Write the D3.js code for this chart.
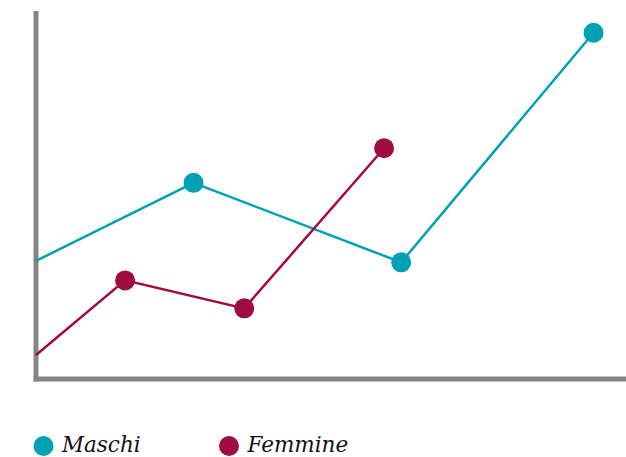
<!DOCTYPE html>
<html>
<head>
<meta charset="utf-8">
<script src="https://cdn.jsdelivr.net/npm/d3@7"></script>
<style>
  html, body { margin: 0; padding: 0; background: #fff; }
  svg { display: block; }
</style>
</head>
<body>
<svg id="chart" width="626" height="457"></svg>
<script>
// Data (x in arbitrary units, y in arbitrary units)
const seriesNames = ["Maschi", "Femmine"];
const maschiX = [0, 2.67, 6.19, 9.45];
const maschiY = [32.1, 53.3, 31.7, 94.1];
const femmineX = [0, 1.51, 3.53, 5.90];
const femmineY = [6.5, 26.8, 19.2, 62.7];
// first point of each series sits on the axis and has no marker
const maschiMarker = [false, true, true, true];
const femmineMarker = [false, true, true, true];

const colors = { Maschi: "#00a1b4", Femmine: "#a00c3f" };

const svg = d3.select("#chart");
const x = d3.scaleLinear().domain([0, 10]).range([36, 626]);
const y = d3.scaleLinear().domain([0, 100]).range([379, 11]);

const series = [
  { name: "Maschi", pts: maschiX.map((v, i) => ({ x: v, y: maschiY[i], m: maschiMarker[i] })) },
  { name: "Femmine", pts: femmineX.map((v, i) => ({ x: v, y: femmineY[i], m: femmineMarker[i] })) }
];

const line = d3.line().x(d => x(d.x)).y(d => y(d.y));

// Axes
const axisColor = "#858585";
svg.append("line")
  .attr("x1", x(0)).attr("x2", x(0))
  .attr("y1", y(100)).attr("y2", y(0) + 2.5)
  .attr("stroke", axisColor).attr("stroke-width", 5);
svg.append("line")
  .attr("x1", x(0) - 2.5).attr("x2", x(10))
  .attr("y1", y(0)).attr("y2", y(0))
  .attr("stroke", axisColor).attr("stroke-width", 5);

// Lines & markers
series.forEach(s => {
  svg.append("path")
    .attr("d", line(s.pts))
    .attr("fill", "none")
    .attr("stroke", colors[s.name])
    .attr("stroke-width", 2.5);
  svg.selectAll(null)
    .data(s.pts.filter(d => d.m))
    .enter().append("circle")
    .attr("cx", d => x(d.x))
    .attr("cy", d => y(d.y))
    .attr("r", 10)
    .attr("fill", colors[s.name]);
});

// Legend
const legendX = [43.5, 229];
const lg = svg.append("g");
seriesNames.forEach((n, i) => {
  lg.append("circle")
    .attr("cx", legendX[i]).attr("cy", 446).attr("r", 10)
    .attr("fill", colors[n]);
  lg.append("text")
    .attr("x", legendX[i] + 18.5).attr("y", 452)
    .attr("font-family", "DejaVu Serif")
    .attr("font-style", "italic")
    .attr("font-size", 21.5)
    .attr("fill", "#111")
    .text(n);
});
</script>
</body>
</html>
